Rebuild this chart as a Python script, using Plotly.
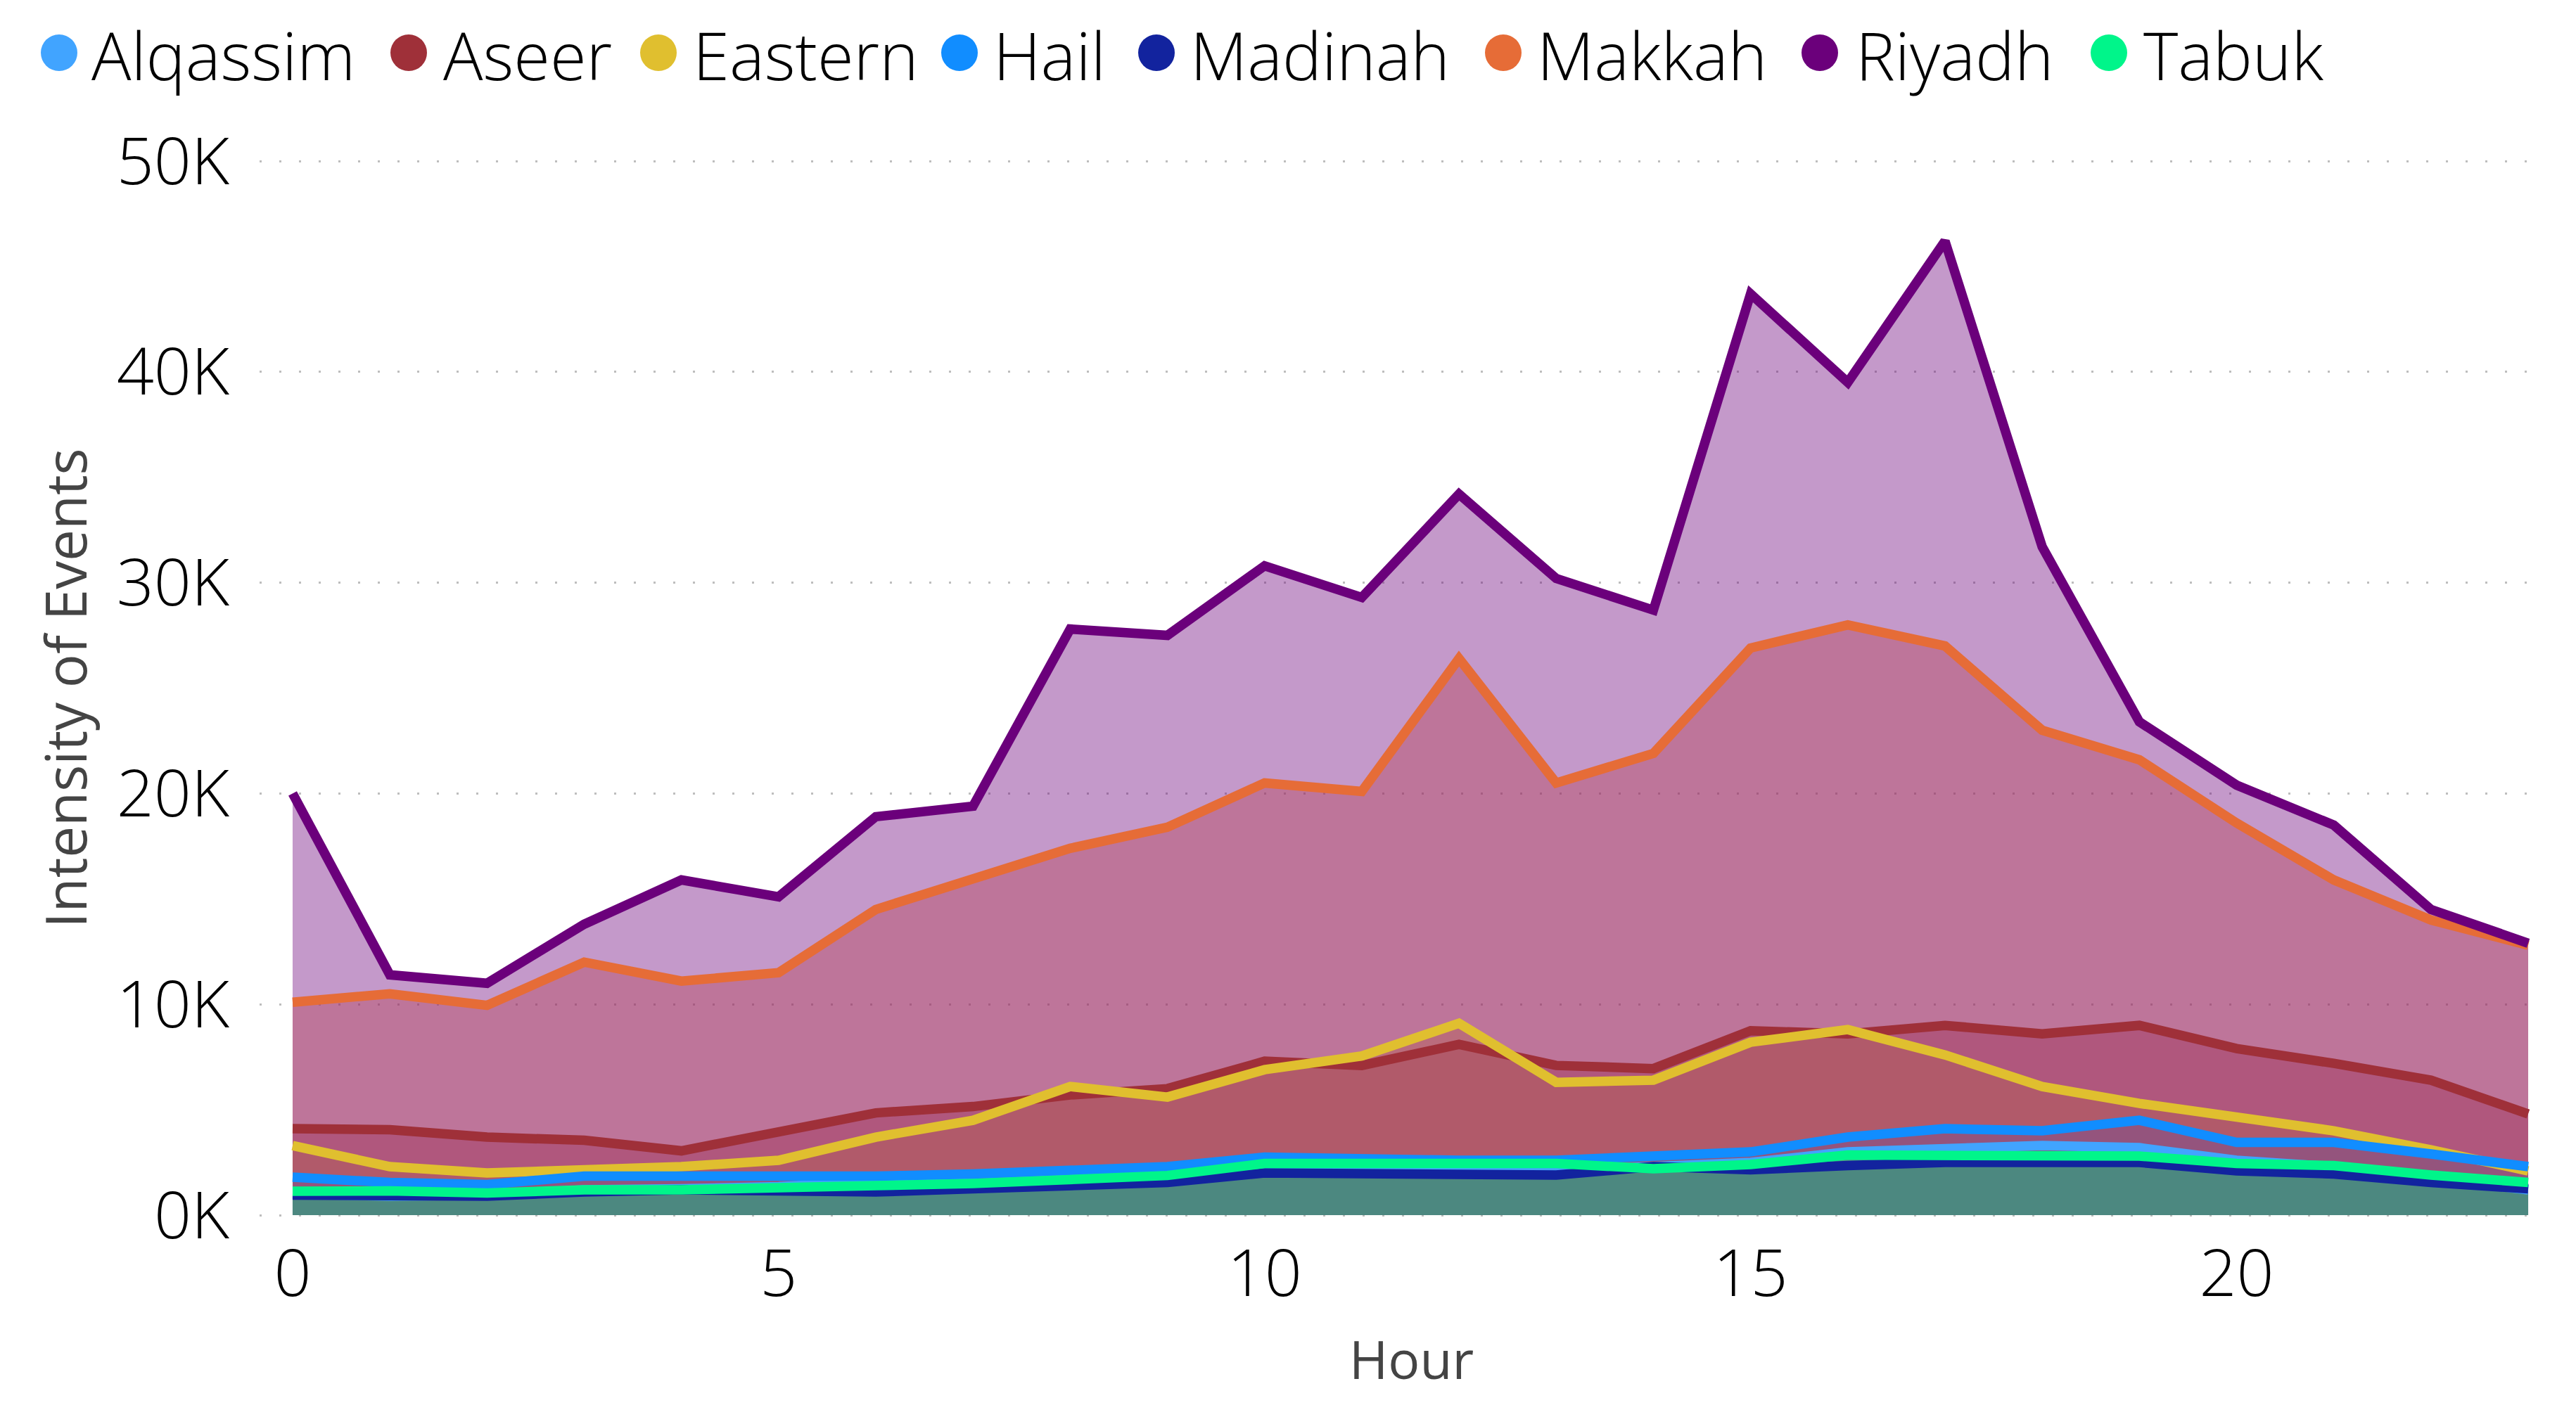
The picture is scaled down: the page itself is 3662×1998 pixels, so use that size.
import plotly.graph_objects as go

# Data (values in thousands of events)
hours = list(range(24))
alqassim = [1.0, 0.9, 0.95, 1.2, 1.25, 1.35, 1.6, 1.5, 1.7, 1.85, 2.3, 2.3, 2.15, 2.15, 2.3, 2.5, 3.0, 3.2, 3.3, 3.2, 2.6, 2.3, 1.7, 1.2]
aseer = [4.1, 4.05, 3.7, 3.55, 3.05, 3.9, 4.85, 5.15, 5.7, 6.0, 7.3, 7.1, 8.1, 7.1, 6.95, 8.75, 8.6, 9.0, 8.6, 9.0, 7.9, 7.2, 6.4, 4.8]
eastern = [3.3, 2.3, 2.0, 2.15, 2.3, 2.6, 3.7, 4.5, 6.1, 5.6, 6.9, 7.55, 9.1, 6.3, 6.4, 8.2, 8.8, 7.6, 6.1, 5.3, 4.6, 4.0, 3.1, 2.1]
hail = [1.8, 1.55, 1.45, 1.85, 1.85, 1.8, 1.85, 1.95, 2.1, 2.3, 2.75, 2.65, 2.6, 2.6, 2.75, 3.0, 3.7, 4.1, 4.0, 4.5, 3.45, 3.45, 2.9, 2.3]
madinah = [0.95, 0.9, 0.9, 1.1, 1.2, 1.15, 1.1, 1.25, 1.45, 1.55, 2.0, 1.95, 1.9, 1.9, 2.3, 2.15, 2.35, 2.5, 2.5, 2.5, 2.1, 1.95, 1.55, 1.25]
makkah = [10.1, 10.5, 9.95, 12.0, 11.1, 11.5, 14.5, 16.0, 17.4, 18.4, 20.5, 20.1, 26.4, 20.5, 21.9, 26.9, 28.0, 27.0, 23.0, 21.6, 18.6, 15.9, 14.0, 12.8]
riyadh = [20.0, 11.4, 11.0, 13.8, 15.9, 15.1, 18.9, 19.4, 27.8, 27.5, 30.8, 29.3, 34.2, 30.2, 28.7, 43.7, 39.5, 46.2, 31.7, 23.4, 20.4, 18.5, 14.5, 12.9]
tabuk = [1.13, 1.15, 1.05, 1.2, 1.2, 1.34, 1.4, 1.5, 1.7, 1.88, 2.45, 2.45, 2.45, 2.45, 2.2, 2.4, 2.85, 2.85, 2.8, 2.8, 2.45, 2.35, 1.9, 1.55]

regions = ["Alqassim", "Aseer", "Eastern", "Hail", "Madinah", "Makkah", "Riyadh", "Tabuk"]
series = [alqassim, aseer, eastern, hail, madinah, makkah, riyadh, tabuk]
colors = ["#41A4FF", "#9F3039", "#E0BF2F", "#118DFF", "#12239E", "#E66C37", "#6B007B", "#00F58A"]

y_ticks = [0, 10, 20, 30, 40, 50]
y_labels = ["0K", "10K", "20K", "30K", "40K", "50K"]
x_ticks = [0, 5, 10, 15, 20]

W, H = 3662, 1998
L, R, T, B = 369, 59, 226, 267
FONT = "Open Sans"


def rgba(hex_color, alpha):
    r, g, b = (int(hex_color[i:i + 2], 16) for i in (1, 3, 5))
    return f"rgba({r},{g},{b},{alpha})"


def paper_x(px):
    return (px - L) / (W - L - R)


def paper_y(px):
    return (H - B - px) / (H - T - B)


fig = go.Figure()

# Areas first, then all the lines, so no fill washes over a line
for name, values, color in zip(regions, series, colors):
    fig.add_trace(go.Scatter(
        x=hours,
        y=values,
        name=name,
        mode="none",
        fill="tozeroy",
        fillcolor=rgba(color, 0.4),
        showlegend=False,
    ))
for name, values, color in zip(regions, series, colors):
    fig.add_trace(go.Scatter(
        x=hours,
        y=values,
        name=name,
        mode="lines",
        line=dict(color=color, width=13.5),
        showlegend=False,
    ))

fig.update_layout(
    width=W,
    height=H,
    margin=dict(l=L, r=R, t=T, b=B),
    plot_bgcolor="white",
    paper_bgcolor="white",
    font=dict(family=FONT, color="#000000"),
    showlegend=False,
)

fig.update_xaxes(
    range=[-0.34, 23.065],
    tickvals=x_ticks,
    showgrid=False,
    zeroline=False,
    showline=False,
    ticks="",
    ticklabelstandoff=18,
    tickfont=dict(size=93, family=FONT, weight=300),
)
fig.update_yaxes(
    range=[-0.1, 50.1],
    tickvals=y_ticks,
    ticktext=y_labels,
    showgrid=True,
    gridcolor="#BDBDBD",
    gridwidth=3,
    griddash="3px,25px",
    zeroline=False,
    showline=False,
    ticks="",
    ticklabelstandoff=42,
    tickfont=dict(size=93, family=FONT, weight=300),
    title=dict(text="Intensity of Events", font=dict(size=80, family=FONT, color="#444444"), standoff=15),
)

# The x title sits right of the plot centre in the original, so it is placed by hand
fig.add_annotation(
    text="Hour", xref="paper", yref="paper",
    x=paper_x(2006), y=paper_y(1932),
    xanchor="center", yanchor="middle", showarrow=False,
    font=dict(size=75, family=FONT, color="#444444"),
)

# Legend row: the large round keys are more than the built-in legend can draw
key_centers = [84, 581, 936, 1364, 1644, 2137, 2587, 2998]
label_lefts = [128, 628, 983, 1410, 1690, 2183, 2636, 3045]
KEY_R = 26
KEY_Y = 75
LABEL_Y = 78
for name, color, cx, lx in zip(regions, colors, key_centers, label_lefts):
    fig.add_shape(
        type="circle", xref="paper", yref="paper",
        x0=paper_x(cx - KEY_R), x1=paper_x(cx + KEY_R),
        y0=paper_y(KEY_Y + KEY_R), y1=paper_y(KEY_Y - KEY_R),
        fillcolor=color, line=dict(width=0),
    )
    fig.add_annotation(
        text=name, xref="paper", yref="paper",
        x=paper_x(lx), y=paper_y(LABEL_Y),
        xanchor="left", yanchor="middle", showarrow=False,
        font=dict(size=94, family=FONT, weight=300, color="#000000"),
    )

fig.write_html(
    "out.html",
    config={"displayModeBar": False},
    post_script="document.body.style.margin='0';",
)
